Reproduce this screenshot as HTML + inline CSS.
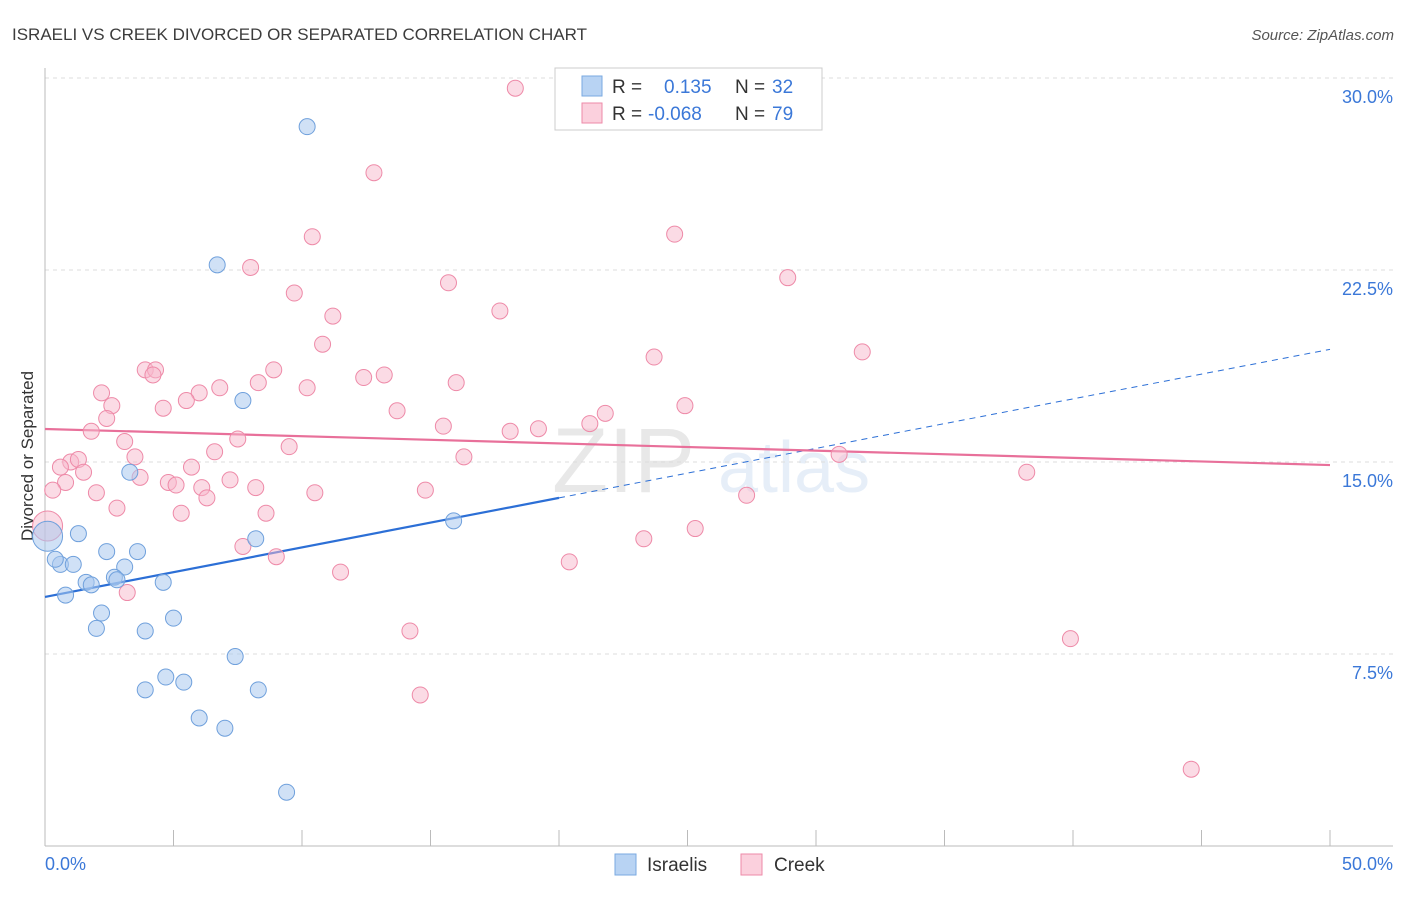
<!DOCTYPE html>
<html><head><meta charset="utf-8">
<style>
body{margin:0;background:#fff;font-family:"Liberation Sans",sans-serif;}
svg text{font-family:"Liberation Sans",sans-serif;}
</style></head>
<body>
<svg id="chart" width="1406" height="892" xmlns="http://www.w3.org/2000/svg">
<text x="12" y="40" font-size="17" fill="#3c3c3c">ISRAELI VS CREEK DIVORCED OR SEPARATED CORRELATION CHART</text>
<text x="1394" y="40" font-size="15" fill="#555" text-anchor="end" font-style="italic">Source: ZipAtlas.com</text>
<text transform="translate(33,456) rotate(-90)" font-size="17" fill="#333" text-anchor="middle">Divorced or Separated</text>
<g opacity="0.13">
<text x="552" y="492" font-size="92" font-family="Liberation Serif" fill="#555">ZIP</text>
<text x="718" y="492" font-size="72" fill="#4a86d0">atlas</text>
</g>
<g id="grid"></g>
<g id="axes"></g>
<g id="trends"></g>
<g id="points"></g>
<g>
<rect x="555" y="68" width="267" height="62" fill="#fff" stroke="#ccc"/>
<rect x="582" y="76" width="20" height="20" fill="#b8d3f3" stroke="#7aaae0"/>
<text x="612" y="93" font-size="19" fill="#333">R =</text>
<text x="664" y="93" font-size="19" fill="#3b78d8">0.135</text>
<text x="735" y="93" font-size="19" fill="#333">N =</text>
<text x="772" y="93" font-size="19" fill="#3b78d8">32</text>
<rect x="582" y="103" width="20" height="20" fill="#fbd0dd" stroke="#ee8aa8"/>
<text x="612" y="120" font-size="19" fill="#333">R =</text>
<text x="648" y="120" font-size="19" fill="#3b78d8">-0.068</text>
<text x="735" y="120" font-size="19" fill="#333">N =</text>
<text x="772" y="120" font-size="19" fill="#3b78d8">79</text>
</g>
<g>
<rect x="615" y="854" width="21" height="21" fill="#b8d3f3" stroke="#7aaae0"/>
<text x="647" y="871" font-size="19" fill="#333">Israelis</text>
</g>
<g>
<rect x="741" y="854" width="21" height="21" fill="#fbd0dd" stroke="#ee8aa8"/>
<text x="774" y="871" font-size="19" fill="#333">Creek</text>
</g>
</svg>
<script>
const yTicks=[7.5,15,22.5,30];
const yTickLabels=["7.5%","15.0%","22.5%","30.0%"];
const xTickCount=10;
const xLabels=["0.0%","50.0%"];
const israeliX=[10.2,6.7,7.7,3.3,15.9,8.2,1.3,2.4,3.6,0.6,1.1,3.1,2.7,1.6,2.8,1.8,4.6,0.8,2.2,5.0,2.0,3.9,7.4,4.7,5.4,3.9,8.3,6.0,7.0,9.4,0.1,0.4];
const israeliY=[28.1,22.7,17.4,14.6,12.7,12.0,12.2,11.5,11.5,11.0,11.0,10.9,10.5,10.3,10.4,10.2,10.3,9.8,9.1,8.9,8.5,8.4,7.4,6.6,6.4,6.1,6.1,5.0,4.6,2.1,12.1,11.2];
const creekX=[18.3,12.8,10.4,24.5,8.0,15.7,9.7,28.9,17.7,11.2,10.8,23.7,31.8,3.9,4.3,4.2,8.9,12.4,13.2,8.3,16.0,10.2,6.8,2.2,6.0,5.5,2.6,4.6,13.7,24.9,21.8,2.4,21.2,15.5,19.2,1.8,18.1,7.5,3.1,9.5,6.6,3.5,16.3,30.9,1.0,1.3,0.6,5.7,1.5,3.7,7.2,4.8,5.1,0.8,6.1,8.2,0.3,2.0,10.5,14.8,27.3,6.3,5.3,8.6,2.8,38.2,0.1,25.3,23.3,7.7,9.0,20.4,11.5,3.2,14.2,39.9,14.6,44.6];
const creekY=[29.6,26.3,23.8,23.9,22.6,22.0,21.6,22.2,20.9,20.7,19.6,19.1,19.3,18.6,18.6,18.4,18.6,18.3,18.4,18.1,18.1,17.9,17.9,17.7,17.7,17.4,17.2,17.1,17.0,17.2,16.9,16.7,16.5,16.4,16.3,16.2,16.2,15.9,15.8,15.6,15.4,15.2,15.2,15.3,15.0,15.1,14.8,14.8,14.6,14.4,14.3,14.2,14.1,14.2,14.0,14.0,13.9,13.8,13.8,13.9,13.7,13.6,13.0,13.0,13.2,14.6,12.5,12.4,12.0,11.7,11.3,11.1,10.7,9.9,8.4,8.1,5.9,3.0];
const israeliBig=[30];
const creekBig=[66];
const israeliTrend=[9.73,19.4];
const israeliSolidEnd=20;
const creekTrend=[16.29,14.88];

const NS="http://www.w3.org/2000/svg";
const X0=45,X1=1330,Y0=846,PPU=25.6;
function sx(v){return X0+(X1-X0)*v/50;}
function sy(v){return Y0-v*PPU;}
function mk(tag,attrs,parent){const e=document.createElementNS(NS,tag);for(const k in attrs)e.setAttribute(k,attrs[k]);document.getElementById(parent).appendChild(e);return e;}

yTicks.forEach((t,i)=>{
  const l=mk("line",{x1:45,x2:1393,y1:sy(t),y2:sy(t),stroke:"#ddd","stroke-dasharray":"4,4"},"grid");
  
  
  const tx=mk("text",{x:1393,y:sy(t)+25,"font-size":18,fill:"#3b78d8","text-anchor":"end"},"grid");
  tx.textContent=yTickLabels[i];
  
  
});
const ax=mk("line",{x1:45,x2:45,y1:68,y2:846,stroke:"#bbb"},"axes");


const axb=mk("line",{x1:45,x2:1393,y1:846,y2:846,stroke:"#bbb"},"axes");


for(let i=0;i<=xTickCount;i++){
  const t=mk("line",{x1:sx(i*5),x2:sx(i*5),y1:830,y2:846,stroke:"#bbb"},"axes");
  
  
}
const xl0=mk("text",{x:45,y:870,"font-size":18,fill:"#3b78d8"},"axes");xl0.textContent=xLabels[0];


const xl1=mk("text",{x:1393,y:870,"font-size":18,fill:"#3b78d8","text-anchor":"end"},"axes");xl1.textContent=xLabels[1];



creekX.forEach((x,i)=>{
  const c=mk("circle",{cx:sx(x),cy:sy(creekY[i]),r:creekBig.includes(i)?15:8,fill:"#f7b8cc","fill-opacity":0.5,stroke:"#ee8aa8","stroke-width":1},"points");
  
  
});
israeliX.forEach((x,i)=>{
  const c=mk("circle",{cx:sx(x),cy:sy(israeliY[i]),r:israeliBig.includes(i)?15:8,fill:"#a9c8ef","fill-opacity":0.55,stroke:"#6fa0dc","stroke-width":1},"points");
  
  
});
function ty(tr,x){return tr[0]+(tr[1]-tr[0])*x/50;}
const bl=mk("line",{x1:sx(0),y1:sy(ty(israeliTrend,0)),x2:sx(israeliSolidEnd),y2:sy(ty(israeliTrend,israeliSolidEnd)),stroke:"#2c6fd6","stroke-width":2.2},"trends");


const bd=mk("line",{x1:sx(israeliSolidEnd),y1:sy(ty(israeliTrend,israeliSolidEnd)),x2:sx(50),y2:sy(ty(israeliTrend,50)),stroke:"#2c6fd6","stroke-width":1,"stroke-dasharray":"6,5"},"trends");


const pl=mk("line",{x1:sx(0),y1:sy(creekTrend[0]),x2:sx(50),y2:sy(creekTrend[1]),stroke:"#e8709a","stroke-width":2.2},"trends");


</script>
</body></html>
